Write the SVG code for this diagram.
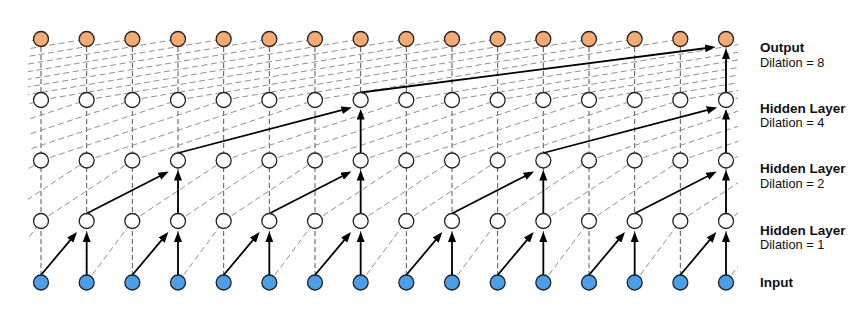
<svg xmlns="http://www.w3.org/2000/svg" xmlns:xlink="http://www.w3.org/1999/xlink" width="866" height="328" viewBox="0 0 866 328">
<style>
.bg{fill:#ffffff}
.vd{stroke:#555555;stroke-width:1;stroke-dasharray:5 3;fill:none}
.dd{stroke:#909090;stroke-width:1;stroke-dasharray:6 3.5;fill:none}
.ar{stroke:#000;stroke-width:1.8;fill:none;marker-end:url(#ah)}
.n{stroke:#222;stroke-width:1.3}
.out{fill:#f7ab72}
.hid{fill:#ffffff}
.inp{fill:#4a9fea}
.lb{font-family:"Liberation Sans",Arial,sans-serif;font-size:13.5px;font-weight:bold;fill:#111}
.ld{font-family:"Liberation Sans",Arial,sans-serif;font-size:12.8px;fill:#111}
</style>
<defs>
<marker id="ah" markerUnits="userSpaceOnUse" markerWidth="11" markerHeight="8" refX="4" refY="4" orient="auto"><path d="M0,0 L10.5,4 L0,8 z" fill="#000"/></marker>
<clipPath id="clip"><rect x="28" y="0" width="710" height="328"/></clipPath>
<line id="d1" x1="0" y1="282.5" x2="45.67" y2="221"/>
<line id="d2" x1="0" y1="221" x2="91.33" y2="160.5"/>
<line id="d4" x1="0" y1="160.5" x2="182.67" y2="100"/>
<line id="d8" x1="0" y1="100" x2="365.33" y2="39"/>
</defs>
<rect class="bg" x="0" y="0" width="866" height="328"/>
<g id="connectors">
<g class="vd">
<line x1="41" y1="39" x2="41" y2="282.5"/>
<line x1="86.67" y1="39" x2="86.67" y2="282.5"/>
<line x1="132.33" y1="39" x2="132.33" y2="282.5"/>
<line x1="178" y1="39" x2="178" y2="282.5"/>
<line x1="223.67" y1="39" x2="223.67" y2="282.5"/>
<line x1="269.33" y1="39" x2="269.33" y2="282.5"/>
<line x1="315" y1="39" x2="315" y2="282.5"/>
<line x1="360.67" y1="39" x2="360.67" y2="282.5"/>
<line x1="406.33" y1="39" x2="406.33" y2="282.5"/>
<line x1="452" y1="39" x2="452" y2="282.5"/>
<line x1="497.67" y1="39" x2="497.67" y2="282.5"/>
<line x1="543.33" y1="39" x2="543.33" y2="282.5"/>
<line x1="589" y1="39" x2="589" y2="282.5"/>
<line x1="634.67" y1="39" x2="634.67" y2="282.5"/>
<line x1="680.33" y1="39" x2="680.33" y2="282.5"/>
<line x1="726" y1="39" x2="726" y2="282.5"/>
</g>
<g class="dd" clip-path="url(#clip)">
<use href="#d1" x="-4.67"/>
<use href="#d1" x="86.67"/>
<use href="#d1" x="178"/>
<use href="#d1" x="269.33"/>
<use href="#d1" x="360.67"/>
<use href="#d1" x="452"/>
<use href="#d1" x="543.33"/>
<use href="#d1" x="634.67"/>
<use href="#d1" x="726"/>
<use href="#d2" x="-50.33"/>
<use href="#d2" x="-4.67"/>
<use href="#d2" x="41"/>
<use href="#d2" x="132.33"/>
<use href="#d2" x="178"/>
<use href="#d2" x="223.67"/>
<use href="#d2" x="315"/>
<use href="#d2" x="360.67"/>
<use href="#d2" x="406.33"/>
<use href="#d2" x="497.67"/>
<use href="#d2" x="543.33"/>
<use href="#d2" x="589"/>
<use href="#d2" x="680.33"/>
<use href="#d2" x="726"/>
<use href="#d4" x="-141.67"/>
<use href="#d4" x="-96"/>
<use href="#d4" x="-50.33"/>
<use href="#d4" x="-4.67"/>
<use href="#d4" x="41"/>
<use href="#d4" x="86.67"/>
<use href="#d4" x="132.33"/>
<use href="#d4" x="223.67"/>
<use href="#d4" x="269.33"/>
<use href="#d4" x="315"/>
<use href="#d4" x="360.67"/>
<use href="#d4" x="406.33"/>
<use href="#d4" x="452"/>
<use href="#d4" x="497.67"/>
<use href="#d4" x="589"/>
<use href="#d4" x="634.67"/>
<use href="#d4" x="680.33"/>
<use href="#d4" x="726"/>
<use href="#d8" x="-324.33"/>
<use href="#d8" x="-278.67"/>
<use href="#d8" x="-233"/>
<use href="#d8" x="-187.33"/>
<use href="#d8" x="-141.67"/>
<use href="#d8" x="-96"/>
<use href="#d8" x="-50.33"/>
<use href="#d8" x="-4.67"/>
<use href="#d8" x="41"/>
<use href="#d8" x="86.67"/>
<use href="#d8" x="132.33"/>
<use href="#d8" x="178"/>
<use href="#d8" x="223.67"/>
<use href="#d8" x="269.33"/>
<use href="#d8" x="315"/>
<use href="#d8" x="406.33"/>
<use href="#d8" x="452"/>
<use href="#d8" x="497.67"/>
<use href="#d8" x="543.33"/>
<use href="#d8" x="589"/>
<use href="#d8" x="634.67"/>
<use href="#d8" x="680.33"/>
<use href="#d8" x="726"/>
</g>
<g class="ar">
<line x1="41" y1="275" x2="72.81" y2="237.1"/>
<line x1="86.67" y1="275" x2="86.67" y2="238"/>
<line x1="132.33" y1="275" x2="164.14" y2="237.1"/>
<line x1="178" y1="275" x2="178" y2="238"/>
<line x1="223.67" y1="275" x2="255.47" y2="237.1"/>
<line x1="269.33" y1="275" x2="269.33" y2="238"/>
<line x1="315" y1="275" x2="346.81" y2="237.1"/>
<line x1="360.67" y1="275" x2="360.67" y2="238"/>
<line x1="406.33" y1="275" x2="438.14" y2="237.1"/>
<line x1="452" y1="275" x2="452" y2="238"/>
<line x1="497.67" y1="275" x2="529.47" y2="237.1"/>
<line x1="543.33" y1="275" x2="543.33" y2="238"/>
<line x1="589" y1="275" x2="620.81" y2="237.1"/>
<line x1="634.67" y1="275" x2="634.67" y2="238"/>
<line x1="680.33" y1="275" x2="712.14" y2="237.1"/>
<line x1="726" y1="275" x2="726" y2="238"/>
<line x1="86.67" y1="213.5" x2="162.96" y2="174.43"/>
<line x1="178" y1="213.5" x2="178" y2="176.5"/>
<line x1="269.33" y1="213.5" x2="345.63" y2="174.43"/>
<line x1="360.67" y1="213.5" x2="360.67" y2="176.5"/>
<line x1="452" y1="213.5" x2="528.29" y2="174.43"/>
<line x1="543.33" y1="213.5" x2="543.33" y2="176.5"/>
<line x1="634.67" y1="213.5" x2="710.96" y2="174.43"/>
<line x1="726" y1="213.5" x2="726" y2="176.5"/>
<line x1="178" y1="153" x2="345.57" y2="109.22"/>
<line x1="360.67" y1="153" x2="360.67" y2="115.5"/>
<line x1="543.33" y1="153" x2="710.9" y2="109.22"/>
<line x1="726" y1="153" x2="726" y2="115.5"/>
<line x1="360.67" y1="92.5" x2="709.05" y2="47.76"/>
<line x1="726" y1="92.5" x2="726" y2="55"/>
</g>
</g>
<g id="nodes" class="n">
<g id="out0"><circle class="out" cx="41" cy="39" r="7.5"/></g>
<g id="out1"><circle class="out" cx="86.67" cy="39" r="7.5"/></g>
<g id="out2"><circle class="out" cx="132.33" cy="39" r="7.5"/></g>
<g id="out3"><circle class="out" cx="178" cy="39" r="7.5"/></g>
<g id="out4"><circle class="out" cx="223.67" cy="39" r="7.5"/></g>
<g id="out5"><circle class="out" cx="269.33" cy="39" r="7.5"/></g>
<g id="out6"><circle class="out" cx="315" cy="39" r="7.5"/></g>
<g id="out7"><circle class="out" cx="360.67" cy="39" r="7.5"/></g>
<g id="out8"><circle class="out" cx="406.33" cy="39" r="7.5"/></g>
<g id="out9"><circle class="out" cx="452" cy="39" r="7.5"/></g>
<g id="out10"><circle class="out" cx="497.67" cy="39" r="7.5"/></g>
<g id="out11"><circle class="out" cx="543.33" cy="39" r="7.5"/></g>
<g id="out12"><circle class="out" cx="589" cy="39" r="7.5"/></g>
<g id="out13"><circle class="out" cx="634.67" cy="39" r="7.5"/></g>
<g id="out14"><circle class="out" cx="680.33" cy="39" r="7.5"/></g>
<g id="out15"><circle class="out" cx="726" cy="39" r="7.5"/></g>
<g id="h3_0"><circle class="hid" cx="41" cy="100" r="7.5"/></g>
<g id="h3_1"><circle class="hid" cx="86.67" cy="100" r="7.5"/></g>
<g id="h3_2"><circle class="hid" cx="132.33" cy="100" r="7.5"/></g>
<g id="h3_3"><circle class="hid" cx="178" cy="100" r="7.5"/></g>
<g id="h3_4"><circle class="hid" cx="223.67" cy="100" r="7.5"/></g>
<g id="h3_5"><circle class="hid" cx="269.33" cy="100" r="7.5"/></g>
<g id="h3_6"><circle class="hid" cx="315" cy="100" r="7.5"/></g>
<g id="h3_7"><circle class="hid" cx="360.67" cy="100" r="7.5"/></g>
<g id="h3_8"><circle class="hid" cx="406.33" cy="100" r="7.5"/></g>
<g id="h3_9"><circle class="hid" cx="452" cy="100" r="7.5"/></g>
<g id="h3_10"><circle class="hid" cx="497.67" cy="100" r="7.5"/></g>
<g id="h3_11"><circle class="hid" cx="543.33" cy="100" r="7.5"/></g>
<g id="h3_12"><circle class="hid" cx="589" cy="100" r="7.5"/></g>
<g id="h3_13"><circle class="hid" cx="634.67" cy="100" r="7.5"/></g>
<g id="h3_14"><circle class="hid" cx="680.33" cy="100" r="7.5"/></g>
<g id="h3_15"><circle class="hid" cx="726" cy="100" r="7.5"/></g>
<g id="h2_0"><circle class="hid" cx="41" cy="160.5" r="7.5"/></g>
<g id="h2_1"><circle class="hid" cx="86.67" cy="160.5" r="7.5"/></g>
<g id="h2_2"><circle class="hid" cx="132.33" cy="160.5" r="7.5"/></g>
<g id="h2_3"><circle class="hid" cx="178" cy="160.5" r="7.5"/></g>
<g id="h2_4"><circle class="hid" cx="223.67" cy="160.5" r="7.5"/></g>
<g id="h2_5"><circle class="hid" cx="269.33" cy="160.5" r="7.5"/></g>
<g id="h2_6"><circle class="hid" cx="315" cy="160.5" r="7.5"/></g>
<g id="h2_7"><circle class="hid" cx="360.67" cy="160.5" r="7.5"/></g>
<g id="h2_8"><circle class="hid" cx="406.33" cy="160.5" r="7.5"/></g>
<g id="h2_9"><circle class="hid" cx="452" cy="160.5" r="7.5"/></g>
<g id="h2_10"><circle class="hid" cx="497.67" cy="160.5" r="7.5"/></g>
<g id="h2_11"><circle class="hid" cx="543.33" cy="160.5" r="7.5"/></g>
<g id="h2_12"><circle class="hid" cx="589" cy="160.5" r="7.5"/></g>
<g id="h2_13"><circle class="hid" cx="634.67" cy="160.5" r="7.5"/></g>
<g id="h2_14"><circle class="hid" cx="680.33" cy="160.5" r="7.5"/></g>
<g id="h2_15"><circle class="hid" cx="726" cy="160.5" r="7.5"/></g>
<g id="h1_0"><circle class="hid" cx="41" cy="221" r="7.5"/></g>
<g id="h1_1"><circle class="hid" cx="86.67" cy="221" r="7.5"/></g>
<g id="h1_2"><circle class="hid" cx="132.33" cy="221" r="7.5"/></g>
<g id="h1_3"><circle class="hid" cx="178" cy="221" r="7.5"/></g>
<g id="h1_4"><circle class="hid" cx="223.67" cy="221" r="7.5"/></g>
<g id="h1_5"><circle class="hid" cx="269.33" cy="221" r="7.5"/></g>
<g id="h1_6"><circle class="hid" cx="315" cy="221" r="7.5"/></g>
<g id="h1_7"><circle class="hid" cx="360.67" cy="221" r="7.5"/></g>
<g id="h1_8"><circle class="hid" cx="406.33" cy="221" r="7.5"/></g>
<g id="h1_9"><circle class="hid" cx="452" cy="221" r="7.5"/></g>
<g id="h1_10"><circle class="hid" cx="497.67" cy="221" r="7.5"/></g>
<g id="h1_11"><circle class="hid" cx="543.33" cy="221" r="7.5"/></g>
<g id="h1_12"><circle class="hid" cx="589" cy="221" r="7.5"/></g>
<g id="h1_13"><circle class="hid" cx="634.67" cy="221" r="7.5"/></g>
<g id="h1_14"><circle class="hid" cx="680.33" cy="221" r="7.5"/></g>
<g id="h1_15"><circle class="hid" cx="726" cy="221" r="7.5"/></g>
<g id="in0"><circle class="inp" cx="41" cy="282.5" r="7.5"/></g>
<g id="in1"><circle class="inp" cx="86.67" cy="282.5" r="7.5"/></g>
<g id="in2"><circle class="inp" cx="132.33" cy="282.5" r="7.5"/></g>
<g id="in3"><circle class="inp" cx="178" cy="282.5" r="7.5"/></g>
<g id="in4"><circle class="inp" cx="223.67" cy="282.5" r="7.5"/></g>
<g id="in5"><circle class="inp" cx="269.33" cy="282.5" r="7.5"/></g>
<g id="in6"><circle class="inp" cx="315" cy="282.5" r="7.5"/></g>
<g id="in7"><circle class="inp" cx="360.67" cy="282.5" r="7.5"/></g>
<g id="in8"><circle class="inp" cx="406.33" cy="282.5" r="7.5"/></g>
<g id="in9"><circle class="inp" cx="452" cy="282.5" r="7.5"/></g>
<g id="in10"><circle class="inp" cx="497.67" cy="282.5" r="7.5"/></g>
<g id="in11"><circle class="inp" cx="543.33" cy="282.5" r="7.5"/></g>
<g id="in12"><circle class="inp" cx="589" cy="282.5" r="7.5"/></g>
<g id="in13"><circle class="inp" cx="634.67" cy="282.5" r="7.5"/></g>
<g id="in14"><circle class="inp" cx="680.33" cy="282.5" r="7.5"/></g>
<g id="in15"><circle class="inp" cx="726" cy="282.5" r="7.5"/></g>
</g>
<g id="labels">
<text class="lb" x="760" y="51.7">Output</text>
<text class="ld" x="760" y="67.3">Dilation = 8</text>
<text class="lb" x="760" y="112.7">Hidden Layer</text>
<text class="ld" x="760" y="127.3">Dilation = 4</text>
<text class="lb" x="760" y="173.3">Hidden Layer</text>
<text class="ld" x="760" y="188.3">Dilation = 2</text>
<text class="lb" x="760" y="235">Hidden Layer</text>
<text class="ld" x="760" y="249.3">Dilation = 1</text>
<text class="lb" x="760" y="287.3">Input</text>
</g>
</svg>
